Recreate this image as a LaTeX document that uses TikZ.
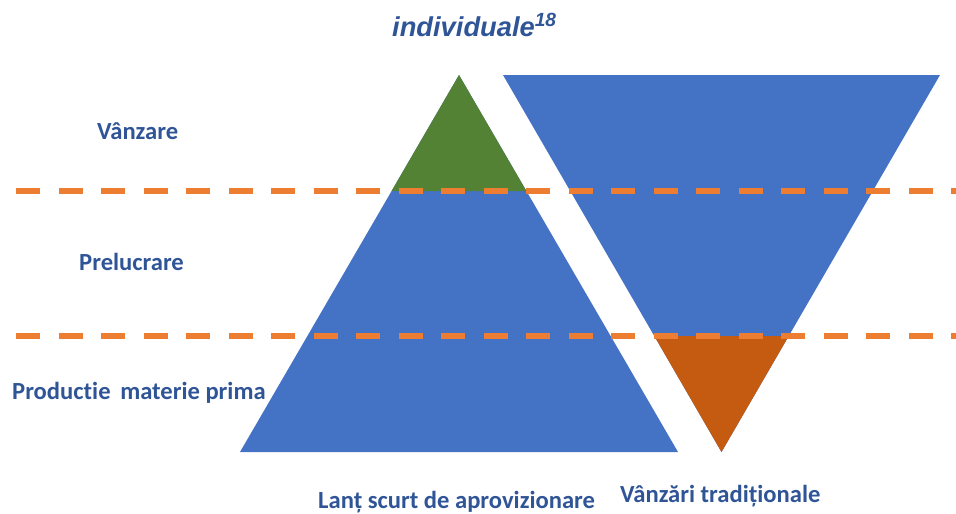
\documentclass[tikz,border=0pt]{standalone}
\usepackage{fontspec}
\setmainfont{Carlito}[Ligatures=NoCommon]
\newfontfamily\titlefont{Liberation Sans}
\definecolor{lbl}{HTML}{2F5597}
\definecolor{tblue}{HTML}{4472C4}
\definecolor{tgreen}{HTML}{548235}
\definecolor{torange}{HTML}{C55A11}
\definecolor{dashor}{HTML}{ED7D31}
\begin{document}
\begin{tikzpicture}[x=1pt,y=-1pt,
  lab/.style={text=lbl,font=\fontsize{24.6}{28}\selectfont\bfseries,inner sep=0pt},
  sepline/.style={draw=dashor,line width=6pt,dash pattern=on 24pt off 18.5pt}]
\useasboundingbox (0,0) rectangle (956,514);
% left triangle (blue) with green top
\fill[tblue] (459,75) -- (240,452) -- (678,452) -- cycle;
\fill[tgreen] (459,75) -- (391.6,191) -- (526.4,191) -- cycle;
% right inverted triangle (blue) with orange bottom
\fill[tblue] (503,75) -- (940,75) -- (721.5,452) -- cycle;
\fill[torange] (721.5,452) -- (654.3,336) -- (788.7,336) -- cycle;
% dashed separators
\coordinate (d1a) at (16,191); \coordinate (d1b) at (956,191);
\coordinate (d2a) at (16,336); \coordinate (d2b) at (956,336);
\draw[sepline] (d1a) -- (d1b);
\draw[sepline] (d2a) -- (d2b);
% title
\node[anchor=base west,inner sep=0pt,text=lbl,font=\titlefont\fontsize{27.3}{30}\selectfont\bfseries\itshape] (title) at (392,36) {individuale\textsuperscript{18}};
% labels
\node[lab,anchor=base west] (vanz) at (97,139) {Vânzare};
\node[lab,anchor=base west] (prel) at (79,270) {Prelucrare};
\node[lab,anchor=base west] (prod) at (12,399) {Productie\, materie prima};
\node[lab,anchor=base west] (lant) at (318,508) {Lanț scurt de aprovizionare};
\node[lab,anchor=base west] (trad) at (620,502) {Vânzări tradiționale};
\end{tikzpicture}
\end{document}
